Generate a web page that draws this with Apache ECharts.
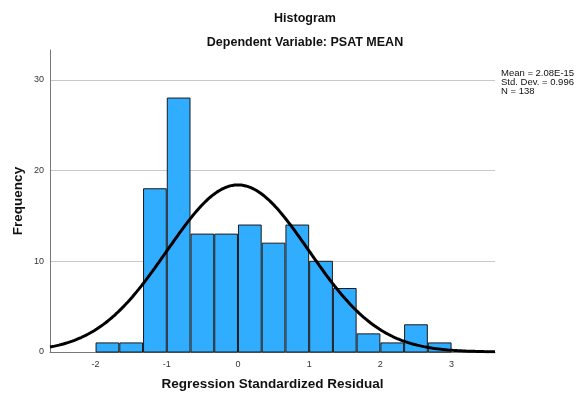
<!DOCTYPE html>
<html>
<head>
<meta charset="utf-8">
<script src="https://cdn.jsdelivr.net/npm/echarts@6/dist/echarts.min.js"></script>
<style>html,body{margin:0;padding:0;background:#fff}#c{width:576px;height:396px}</style>
</head>
<body>
<div id="c"></div>
<script>
// Histogram bins of the standardized residuals (bin width 1/3)
var binStarts = [-2, -5/3, -4/3, -1, -2/3, -1/3, 0, 1/3, 2/3, 1, 4/3, 5/3, 2, 7/3, 8/3];
var binWidth = 1/3;
var frequencies = [1, 1, 18, 28, 13, 13, 14, 12, 14, 10, 7, 2, 1, 3, 1];
var xTicks = [-2, -1, 0, 1, 2, 3];
var yTicks = [0, 10, 20, 30];
var statMean = 2.08e-15, statSd = 0.996, statN = 138;
var statLines = ['Mean = 2.08E-15', 'Std. Dev. = 0.996', 'N = 138'];
var xMin = -2.64, xMax = 3.61, yMax = 33.3;

// Normal curve scaled to counts: N * binWidth * pdf
var curve = [];
var steps = 200;
for (var i = 0; i <= steps; i++) {
  var x = xMin + (xMax - xMin) * i / steps;
  var z = (x - statMean) / statSd;
  curve.push([x, statN * binWidth * Math.exp(-0.5 * z * z) / (statSd * Math.sqrt(2 * Math.PI))]);
}

var bars = binStarts.map(function (s, i) { return [s, s + binWidth, frequencies[i]]; });

var chart = echarts.init(document.getElementById('c'), null, {renderer: 'canvas'});
var font = 'Liberation Sans';
chart.setOption({
  animation: false,
  textStyle: {fontFamily: font},
  title: [
    {text: 'Histogram', left: 300, top: 7, textAlign: 'center',
     textStyle: {fontSize: 12.5, fontWeight: 'bold', color: '#111', fontFamily: font}},
    {text: 'Dependent Variable: PSAT MEAN', left: 300, top: 31, textAlign: 'center',
     textStyle: {fontSize: 12.5, fontWeight: 'bold', color: '#111', fontFamily: font}}
  ],
  graphic: [{
    type: 'text', left: 501, top: 68,
    style: {text: statLines.join('\n'), font: '9.5px "Liberation Sans"', fill: '#111', lineHeight: 9}
  }],
  grid: {left: 50, right: 81, top: 50, bottom: 44, outerBoundsMode: 'none'},
  xAxis: {
    type: 'value', min: xMin, max: xMax,
    name: 'Regression Standardized Residual', nameLocation: 'middle', nameGap: 25,
    nameTextStyle: {fontSize: 13.5, fontWeight: 'bold', color: '#111', fontFamily: font},
    axisLine: {onZero: false, lineStyle: {color: '#777', width: 1}},
    axisTick: {show: false, customValues: xTicks},
    axisLabel: {customValues: xTicks, fontSize: 9, color: '#333', margin: 8},
    splitLine: {show: false}
  },
  yAxis: {
    type: 'value', min: 0, max: yMax,
    name: 'Frequency', nameLocation: 'middle', nameGap: 25, nameMoveOverlap: false,
    nameTextStyle: {fontSize: 13.5, fontWeight: 'bold', color: '#111', fontFamily: font},
    axisLine: {show: true, onZero: false, lineStyle: {color: '#777', width: 1}},
    axisTick: {show: false, customValues: yTicks},
    axisLabel: {customValues: yTicks, fontSize: 9, color: '#333', margin: 6},
    splitLine: {show: true, lineStyle: {color: '#c8c8c8', width: 1}}
  },
  series: [
    {
      type: 'custom',
      data: bars,
      renderItem: function (params, api) {
        var p0 = api.coord([api.value(0), api.value(2)]);
        var p1 = api.coord([api.value(1), 0]);
        return {
          type: 'rect',
          shape: {x: p0[0] + 0.5, y: p0[1], width: p1[0] - p0[0] - 1, height: p1[1] - p0[1]},
          style: {fill: '#31adff', stroke: '#1a1a1a', lineWidth: 1}
        };
      },
      encode: {x: [0, 1], y: 2},
      z: 2
    },
    {
      type: 'line', data: curve, showSymbol: false, smooth: false,
      lineStyle: {color: '#000', width: 3}, z: 3
    }
  ]
});
</script>
</body>
</html>
